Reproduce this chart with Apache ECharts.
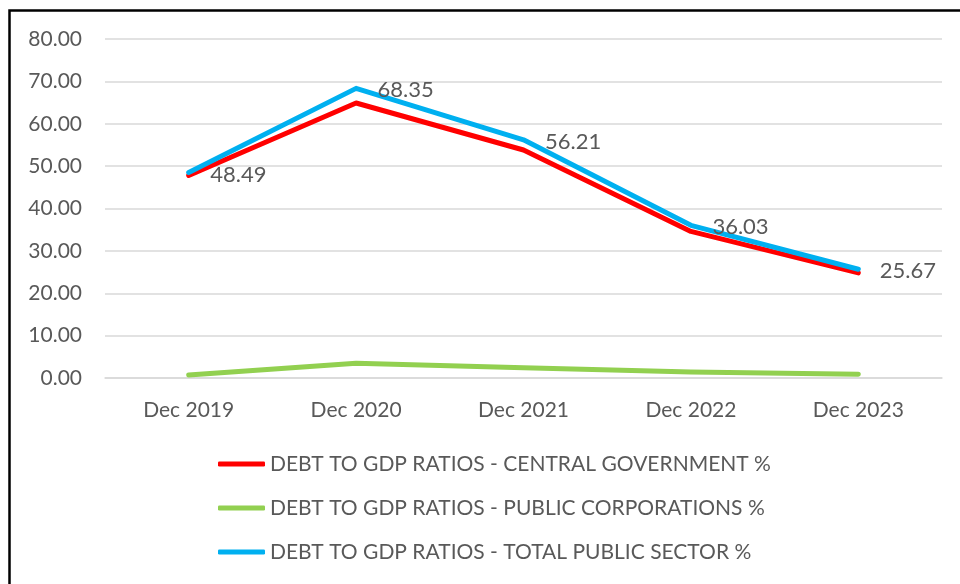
<!DOCTYPE html>
<html>
<head>
<meta charset="utf-8">
<script src="https://cdn.jsdelivr.net/npm/echarts@6/dist/echarts.min.js"></script>
<style>
  html, body { margin: 0; padding: 0; background: #fff; }
  #chart { width: 960px; height: 584px; }
</style>
</head>
<body>
<div id="chart"></div>
<script>
// Debt to GDP ratios, year-end
const categories = ['Dec 2019', 'Dec 2020', 'Dec 2021', 'Dec 2022', 'Dec 2023'];
const centralGovernment = [47.8, 64.9, 53.8, 34.6, 24.8];
const publicCorporations = [0.7, 3.5, 2.4, 1.4, 0.9];
const totalPublicSector = [48.49, 68.35, 56.21, 36.03, 25.67];
const yTicks = { min: 0, max: 80, interval: 10 };

const seriesNames = [
  'DEBT TO GDP RATIOS - CENTRAL GOVERNMENT %',
  'DEBT TO GDP RATIOS - PUBLIC CORPORATIONS %',
  'DEBT TO GDP RATIOS - TOTAL PUBLIC SECTOR %'
];
const colors = ['#FF0000', '#92D050', '#00B0F0'];
const FONT = 'Lato';
const TEXT = '#595959';

const chart = echarts.init(document.getElementById('chart'), null, { renderer: 'canvas' });

function lineSeries(name, data, color, withLabels) {
  return {
    name: name,
    type: 'line',
    data: data,
    symbol: 'circle',
    symbolSize: 1,
    showSymbol: true,
    itemStyle: { color: color },
    lineStyle: { color: color, width: 5, cap: 'round', join: 'round' },
    emphasis: { disabled: true },
    animation: false,
    label: withLabels ? {
      show: true,
      position: 'right',
      distance: 21,
      offset: [0, 2],
      color: TEXT,
      fontFamily: FONT,
      fontSize: 22,
      formatter: p => p.value.toFixed(2)
    } : { show: false }
  };
}

chart.setOption({
  backgroundColor: '#ffffff',
  color: colors,
  animation: false,
  grid: { left: 105, right: 18, top: 39, bottom: 206, containLabel: false },
  graphic: [{
    type: 'rect',
    shape: { x: 9.5, y: 10.5, width: 1000, height: 700 },
    style: { fill: 'none', stroke: '#000', lineWidth: 2.5 },
    silent: true
  }],
  legend: {
    orient: 'vertical',
    left: 218,
    top: 452,
    padding: 0,
    icon: 'roundRect',
    itemWidth: 47,
    itemHeight: 5,
    itemGap: 20,
    itemTextGap: 5,
    textStyle: { color: TEXT, fontFamily: FONT, fontSize: 21, lineHeight: 24 },
    data: seriesNames
  },
  xAxis: {
    type: 'category',
    data: categories,
    boundaryGap: true,
    axisLine: { show: true, lineStyle: { color: '#D9D9D9', width: 1.5 } },
    axisTick: { show: false },
    axisLabel: { color: TEXT, fontFamily: FONT, fontSize: 21, margin: 22 }
  },
  yAxis: {
    type: 'value',
    min: yTicks.min,
    max: yTicks.max,
    interval: yTicks.interval,
    axisLine: { show: false },
    axisTick: { show: false },
    splitLine: { lineStyle: { color: '#D9D9D9', width: 1.5 } },
    axisLabel: { color: TEXT, fontFamily: FONT, fontSize: 21, margin: 23, formatter: v => v.toFixed(2) }
  },
  series: [
    lineSeries(seriesNames[0], centralGovernment, colors[0], false),
    lineSeries(seriesNames[1], publicCorporations, colors[1], false),
    lineSeries(seriesNames[2], totalPublicSector, colors[2], true)
  ]
});
</script>
</body>
</html>
